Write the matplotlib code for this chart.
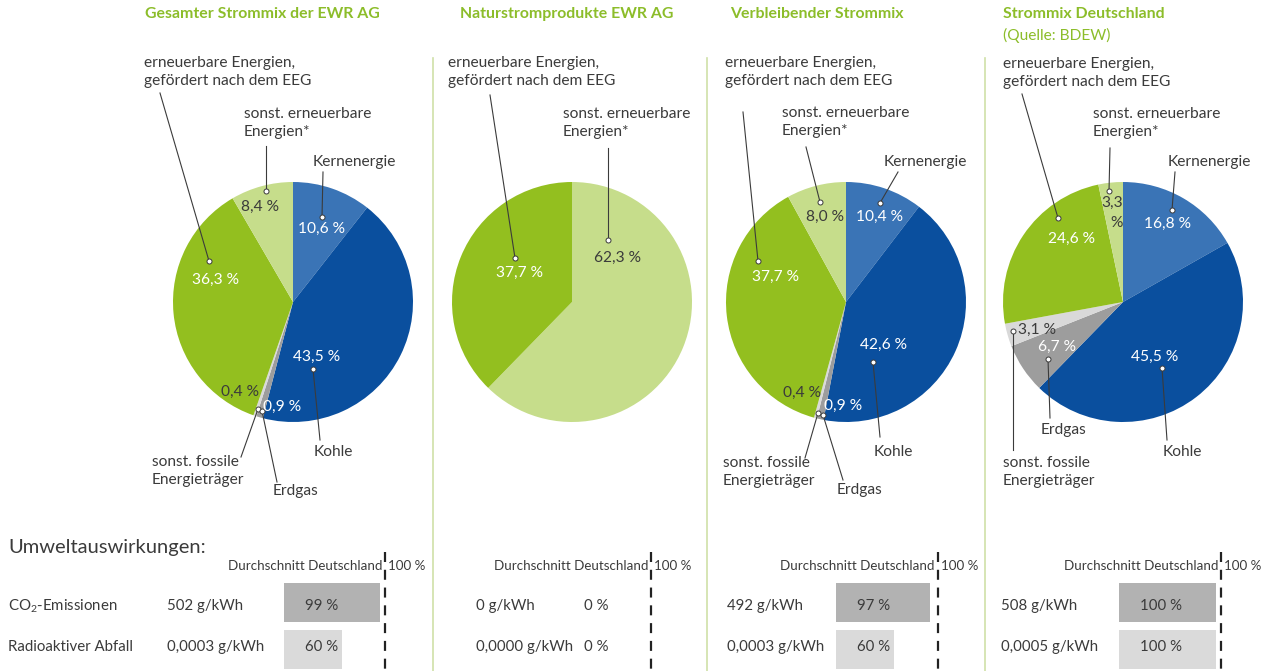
import matplotlib
matplotlib.use("Agg")
import matplotlib.pyplot as plt

# ---------------- data ----------------
panel_titles = ["Gesamter Strommix der EWR AG", "Naturstromprodukte EWR AG",
                "Verbleibender Strommix", "Strommix Deutschland"]
panel_subtitles = ["", "", "", "(Quelle: BDEW)"]

# slice order: clockwise from 12 o'clock
pie1_labels = ["Kernenergie", "Kohle", "Erdgas", "sonst. fossile\nEnergieträger",
               "erneuerbare Energien,\ngefördert nach dem EEG", "sonst. erneuerbare\nEnergien*"]
pie1_values = [10.6, 43.5, 0.9, 0.4, 36.3, 8.4]

pie2_labels = ["sonst. erneuerbare\nEnergien*", "erneuerbare Energien,\ngefördert nach dem EEG"]
pie2_values = [62.3, 37.7]

pie3_labels = pie1_labels
pie3_values = [10.4, 42.6, 0.9, 0.4, 37.7, 8.0]

pie4_labels = pie1_labels
pie4_values = [16.8, 45.5, 6.7, 3.1, 24.6, 3.3]

impact_rows = ["CO$_2$-Emissionen", "Radioaktiver Abfall"]
co2_gkwh = [502, 0, 492, 508]
co2_pct = [99, 0, 97, 100]
radio_gkwh = [0.0003, 0.0000, 0.0003, 0.0005]
radio_pct = [60, 0, 60, 100]

# ---------------- style ----------------
FONT = "Lato"
plt.rcParams["font.family"] = [FONT, "DejaVu Sans"]
plt.rcParams["mathtext.fontset"] = "custom"
plt.rcParams["mathtext.rm"] = FONT
plt.rcParams["mathtext.it"] = FONT

C = {
    "Kernenergie": "#3a74b6",
    "Kohle": "#0a4f9e",
    "Erdgas": "#9d9d9d",
    "fossil": "#d9d9d9",
    "EEG": "#93bf1f",
    "sonst": "#c6dd8b",
}
pie_colors_std = [C["Kernenergie"], C["Kohle"], C["Erdgas"], C["fossil"], C["EEG"], C["sonst"]]
pie_colors_2 = [C["sonst"], C["EEG"]]
TXT = "#3b3b3b"
GREEN = "#8cbd2a"
SEP = "#cfe0a8"

W, H = 1274, 671
fig = plt.figure(figsize=(W / 100, H / 100), dpi=100)
ax = fig.add_axes([0, 0, 1, 1])


def Y(y):
    return H - y


def fmt(v):
    return f"{v:.1f}".replace(".", ",") + " %"


LFS = 11.2   # label font size
PFS = 11.2   # percentage font size

# ---------------- pies ----------------
R = 120
CY = 302
centers = [293, 572, 846, 1123]
all_vals = [pie1_values, pie2_values, pie3_values, pie4_values]
all_cols = [pie_colors_std, pie_colors_2, pie_colors_std, pie_colors_std]
for cx, vals, cols in zip(centers, all_vals, all_cols):
    ax.pie(vals, colors=cols, startangle=90, counterclock=False,
           center=(cx, Y(CY)), radius=R, wedgeprops=dict(linewidth=0))


def leader(p_from, p_to):
    ax.plot([p_from[0], p_to[0]], [Y(p_from[1]), Y(p_to[1])], color="#3b3b3b", lw=0.8, zorder=5)
    ax.plot([p_to[0]], [Y(p_to[1])], marker="o", ms=3.6, mfc="white", mec="#3b3b3b", mew=0.7, zorder=6)


def label(x, y, s, ha="left"):
    ax.text(x, Y(y), s, ha=ha, va="center", fontsize=LFS, color=TXT, linespacing=1.3, zorder=7)


def pct(x, y, s, color="white", ha="center"):
    ax.text(x, Y(y), s, ha=ha, va="center", fontsize=PFS, color=color, zorder=7)


# titles
title_x = [145, 460, 730, 1003]
for tx, t, st in zip(title_x, panel_titles, panel_subtitles):
    ax.text(tx, Y(14), t, ha="left", va="center", fontsize=11.4, fontweight="bold", color=GREEN)
    if st:
        ax.text(tx, Y(35), st, ha="left", va="center", fontsize=11.2, color=GREEN)

# separators
for sx in [433, 707, 985]:
    ax.plot([sx, sx], [Y(58), Y(671)], color=SEP, lw=1.2)

# --- pie 1 ---
v = pie1_values
label(144, 72, pie1_labels[4]); leader((160, 93), (209, 261))
label(244, 123, pie1_labels[5]); leader((266, 146), (266, 191))
label(313, 162, pie1_labels[0]); leader((323, 172), (322, 217))
label(333, 452, pie1_labels[1], ha="center"); leader((320, 440), (313, 369))
label(152, 471, pie1_labels[3]); leader((241, 457), (258, 409))
label(295, 491, pie1_labels[2], ha="center"); leader((277, 482), (262, 411))
pct(322, 229, fmt(v[0]))
pct(317, 357, fmt(v[1]))
pct(282, 407, fmt(v[2]))
pct(240, 392, fmt(v[3]), color=TXT)
pct(216, 280, fmt(v[4]))
pct(260, 207, fmt(v[5]), color=TXT)

# --- pie 2 ---
v = pie2_values
label(448, 72, pie2_labels[1]); leader((490, 95), (515, 258))
label(563, 123, pie2_labels[0]); leader((608, 148), (608, 240))
pct(617, 258, fmt(v[0]), color=TXT)
pct(520, 273, fmt(v[1]))

# --- pie 3 ---
v = pie3_values
label(725, 72, pie3_labels[4]); leader((743, 112), (758, 261))
label(782, 122, pie3_labels[5]); leader((806, 147), (820, 202))
label(884, 162, pie3_labels[0]); leader((898, 172), (880, 203))
label(893, 452, pie3_labels[1], ha="center"); leader((880, 437), (873, 362))
label(723, 472, pie3_labels[3]); leader((805, 458), (818, 413))
label(860, 490, pie3_labels[2], ha="center"); leader((843, 480), (823, 415))
pct(879, 217, fmt(v[0]))
pct(883, 345, fmt(v[1]))
pct(843, 406, fmt(v[2]))
pct(802, 393, fmt(v[3]), color=TXT)
pct(775, 277, fmt(v[4]))
pct(825, 217, fmt(v[5]), color=TXT)

# --- pie 4 ---
v = pie4_values
label(1003, 73, pie4_labels[4]); leader((1022, 94), (1058, 218))
label(1093, 123, pie4_labels[5]); leader((1110, 148), (1109, 191))
label(1168, 162, pie4_labels[0]); leader((1175, 172), (1172, 210))
label(1182, 452, pie4_labels[1], ha="center"); leader((1167, 440), (1162, 368))
label(1064, 430, pie4_labels[2], ha="center"); leader((1050, 418), (1048, 359))
label(1003, 472, pie4_labels[3]); leader((1013, 450), (1013, 331))
pct(1167, 224, fmt(v[0]))
pct(1155, 357, fmt(v[1]))
pct(1057, 347, fmt(v[2]))
pct(1018, 330, fmt(v[3]), color=TXT, ha="left")
pct(1072, 239, fmt(v[4]))
s = fmt(v[5]).split(" ")
pct(1112, 203, s[0], color=TXT)
pct(1117, 223, s[1], color=TXT)

# ---------------- impact table ----------------
ax.text(8, Y(548), "Umweltauswirkungen:", ha="left", va="center", fontsize=14.5, color=TXT)
row_y = [606, 647]
for ry, name in zip(row_y, impact_rows):
    ax.text(8, Y(ry), name, ha="left", va="center", fontsize=10.8, color=TXT)

val_x = [167, 476, 727, 1001]
bar_x = [284, 563, 836, 1119]
dash_x = [385, 651, 938, 1221]
PX_PER_PCT = 0.97
for i in range(4):
    # header
    ax.text(dash_x[i] - 3, Y(566), "Durchschnitt Deutschland", ha="right", va="center", fontsize=9.6, color=TXT)
    ax.text(dash_x[i] + 3, Y(566), "100 %", ha="left", va="center", fontsize=9.6, color=TXT)
    ax.plot([dash_x[i], dash_x[i]], [Y(552), Y(671)], color="#222222", lw=1.6,
            linestyle=(0, (4.5, 3.5)), zorder=4)
    # CO2 row
    ax.barh(Y(602.5), co2_pct[i] * PX_PER_PCT, left=bar_x[i], height=39, color="#b2b2b2", zorder=2)
    ax.text(val_x[i], Y(606), f"{co2_gkwh[i]} g/kWh", ha="left", va="center", fontsize=10.8, color=TXT)
    ax.text(bar_x[i] + 21, Y(606), f"{co2_pct[i]} %", ha="left", va="center", fontsize=10.8, color=TXT, zorder=3)
    # radioactive row
    ax.barh(Y(649.5), radio_pct[i] * PX_PER_PCT, left=bar_x[i], height=39, color="#dadada", zorder=2)
    ax.text(val_x[i], Y(647), f"{radio_gkwh[i]:.4f}".replace(".", ",") + " g/kWh",
            ha="left", va="center", fontsize=10.8, color=TXT)
    ax.text(bar_x[i] + 21, Y(647), f"{radio_pct[i]} %", ha="left", va="center", fontsize=10.8, color=TXT, zorder=3)

ax.set_xlim(0, W)
ax.set_ylim(0, H)
ax.set_aspect("auto")
ax.axis("off")
fig.savefig("out.png", dpi=100, facecolor="white")
